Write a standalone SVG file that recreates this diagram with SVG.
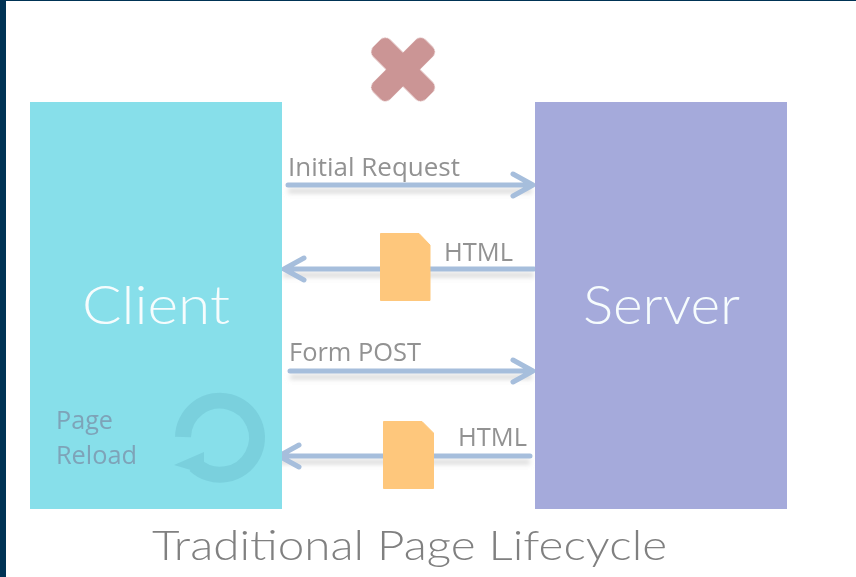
<svg xmlns="http://www.w3.org/2000/svg" width="856" height="577" viewBox="0 0 856 577">
<defs>
<filter id="soft" x="-5%" y="-5%" width="110%" height="110%"><feGaussianBlur stdDeviation="0.6"/></filter>
<filter id="shblur" x="-5%" y="-50%" width="110%" height="200%"><feGaussianBlur stdDeviation="2.4"/></filter>
</defs>
<style>
.arrow{fill:none;stroke:#a6bedc;stroke-width:5;stroke-linecap:round;stroke-linejoin:round}
.shadow{fill:none;stroke:#d2d2d2;stroke-width:4}
.lbl{font-family:"Open Sans","Liberation Sans",sans-serif;font-size:25px;fill:#929292}
.sub{font-family:"Open Sans","Liberation Sans",sans-serif;font-size:25px;fill:#7ea3b8}
.big{font-family:"Lato","Liberation Sans",sans-serif;font-size:54px;font-weight:300;fill:#f6fcfd}
.doc{fill:#fec77c;stroke:#fec77c;stroke-width:1;stroke-linejoin:round}
</style>
<rect width="856" height="577" fill="#fff"/>
<g filter="url(#soft)">
<g id="connectors">
<path class="shadow" filter="url(#shblur)" d="M288 191H532M283 275H534M290 377H532M278 462H530"/>
<path class="arrow" d="M288 185H532M513 174L533 185L513 196"/>
<path class="arrow" d="M534 269H284M304 258L284 269L304 280"/>
<path class="arrow" d="M290 371H532M513 360L533 371L513 382"/>
<path class="arrow" d="M530 456H279M299 445L279 456L299 467"/>
</g>
<g id="mark" fill="#cb9595" transform="rotate(45 403 69.500)"><rect x="366" y="57.500" width="74" height="24" rx="7"/><rect x="391" y="32.500" width="24" height="74" rx="7"/></g>
<g id="client">
<rect x="30" y="102" width="252" height="407" fill="#87dfea"/>
<text class="big" x="82" y="324" textLength="148" lengthAdjust="spacingAndGlyphs">Client</text>
<text class="sub" x="56" y="429" textLength="57" lengthAdjust="spacingAndGlyphs">Page</text>
<text class="sub" x="56" y="464" textLength="81" lengthAdjust="spacingAndGlyphs">Reload</text>
<g id="reload" fill="none" stroke="#7ad0dd">
<path d="M183 437A37 37 0 1 1 195 465" stroke-width="16"/>
<path d="M174 465L204 452L204 474Z" fill="#7ad0dd" stroke="none"/>
</g>
</g>
<g id="server">
<rect x="535" y="102" width="252" height="407" fill="#a5aadb"/>
<text class="big" x="583" y="324" textLength="157" lengthAdjust="spacingAndGlyphs">Server</text>
</g>
<g id="doc1"><path class="doc" d="M380.500 233.500H419L430 245V300.500H380.500Z"/></g>
<g id="doc2"><path class="doc" d="M383.500 421.500H422L433.500 433V488.500H383.500Z"/></g>
<g id="labels">
<text class="lbl" x="288" y="176" textLength="172" lengthAdjust="spacingAndGlyphs">Initial Request</text>
<text class="lbl" x="444" y="261" textLength="69" lengthAdjust="spacingAndGlyphs">HTML</text>
<text class="lbl" x="289" y="361" textLength="132" lengthAdjust="spacingAndGlyphs">Form POST</text>
<text class="lbl" x="458" y="446" textLength="69" lengthAdjust="spacingAndGlyphs">HTML</text>
<text x="152" y="560" font-family="Lato,'Liberation Sans',sans-serif" font-size="41" font-weight="300" fill="#808080" textLength="515" lengthAdjust="spacingAndGlyphs">Traditional Page Lifecycle</text>
</g>
</g>
<rect width="856" height="1" fill="#003355"/>
<rect width="6" height="577" fill="#003355"/>
</svg>
